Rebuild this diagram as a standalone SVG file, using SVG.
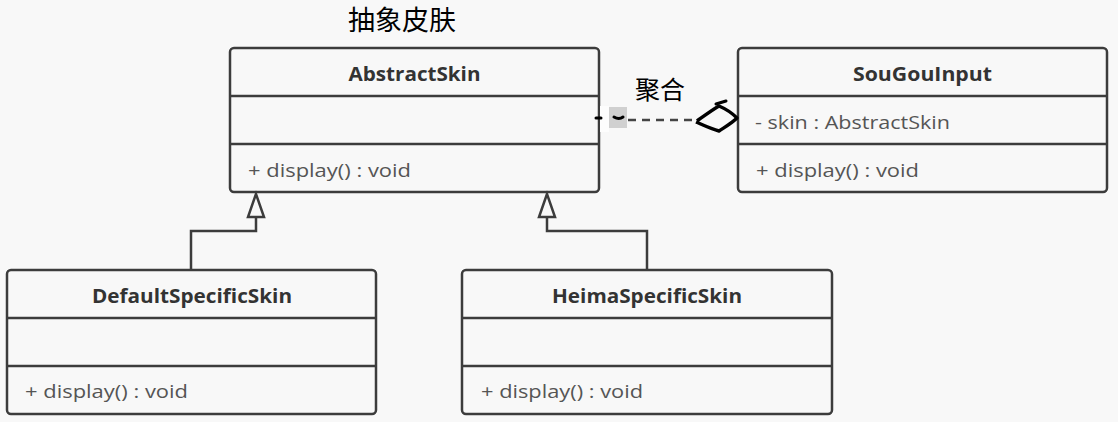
<svg xmlns="http://www.w3.org/2000/svg" width="1118" height="422" viewBox="0 0 1118 422">
<style>
.box{fill:#f8f8f8;stroke:#3c3c3c;stroke-width:2.5}
.div{stroke:#3c3c3c;stroke-width:2.5}
.title{font-family:"Open Sans","Noto Sans",sans-serif;font-weight:bold;font-size:19px;fill:#333;text-anchor:middle}
.mem{font-family:"Open Sans","Noto Sans",sans-serif;font-size:19px;fill:#555}
.edge{fill:none;stroke:#3c3c3c;stroke-width:2.5}
.cn{font-family:"Noto Sans CJK SC",sans-serif;fill:#000}
</style>
<rect width="1118" height="422" fill="#f8f8f8"/>
<text class="cn" x="348" y="30" font-size="27">抽象皮肤</text>
<g id="AbstractSkin">
<rect class="box" x="230" y="48" width="369" height="144" rx="4"/>
<line class="div" x1="230" y1="96" x2="599" y2="96"/>
<line class="div" x1="230" y1="144" x2="599" y2="144"/>
<text class="title" x="414.5" y="81" textLength="132" lengthAdjust="spacingAndGlyphs">AbstractSkin</text>
<text class="mem" x="248" y="177" textLength="163" lengthAdjust="spacingAndGlyphs">+ display() : void</text>
</g>
<g id="SouGouInput">
<rect class="box" x="738" y="48" width="369" height="144" rx="4"/>
<line class="div" x1="738" y1="96" x2="1107" y2="96"/>
<line class="div" x1="738" y1="144" x2="1107" y2="144"/>
<text class="title" x="922.5" y="81" textLength="139" lengthAdjust="spacingAndGlyphs">SouGouInput</text>
<text class="mem" x="755" y="129" textLength="195" lengthAdjust="spacingAndGlyphs">- skin : AbstractSkin</text>
<text class="mem" x="756" y="177" textLength="163" lengthAdjust="spacingAndGlyphs">+ display() : void</text>
</g>
<g id="DefaultSpecificSkin">
<rect class="box" x="7" y="270" width="369" height="144" rx="4"/>
<line class="div" x1="7" y1="318" x2="376" y2="318"/>
<line class="div" x1="7" y1="366" x2="376" y2="366"/>
<text class="title" x="192" y="303" textLength="200" lengthAdjust="spacingAndGlyphs">DefaultSpecificSkin</text>
<text class="mem" x="25" y="398" textLength="163" lengthAdjust="spacingAndGlyphs">+ display() : void</text>
</g>
<g id="HeimaSpecificSkin">
<rect class="box" x="462" y="270" width="370" height="144" rx="4"/>
<line class="div" x1="462" y1="318" x2="832" y2="318"/>
<line class="div" x1="462" y1="366" x2="832" y2="366"/>
<text class="title" x="647" y="303" textLength="190" lengthAdjust="spacingAndGlyphs">HeimaSpecificSkin</text>
<text class="mem" x="481" y="398" textLength="162" lengthAdjust="spacingAndGlyphs">+ display() : void</text>
</g>
<g id="connectors">
<polyline class="edge" points="191,270 191,231 256,231 256,217"/>
<polygon class="edge" points="256,194 248,217 264,217"/>
<polyline class="edge" points="647,270 647,231 547,231 547,217"/>
<polygon class="edge" points="547,194 539,217 555,217"/>
<line x1="628" y1="120" x2="698" y2="120" stroke="#444" stroke-width="2.5" stroke-dasharray="8,6"/>
<rect x="609" y="107" width="18" height="21" fill="#d0d0d0"/>
<rect x="600" y="106" width="9" height="26" fill="#fdfdfd"/>
<path d="M596,118 L601,118" stroke="#000" stroke-width="3" stroke-linecap="round"/>
<path d="M614,117 Q619,120 623,117" stroke="#000" stroke-width="3" fill="none" stroke-linecap="round"/>
<path d="M697,121 C704,116 712,110 719,106 C726,109 732,113 737,118 C732,123 725,127 719,131 C711,129 703,125 696,122" fill="none" stroke="#000" stroke-width="3.4" stroke-linejoin="round"/>
<path d="M716,104 L726,101" stroke="#000" stroke-width="3" stroke-linecap="round"/>
<text class="cn" x="635" y="99" font-size="25">聚合</text>
</g>
</svg>
